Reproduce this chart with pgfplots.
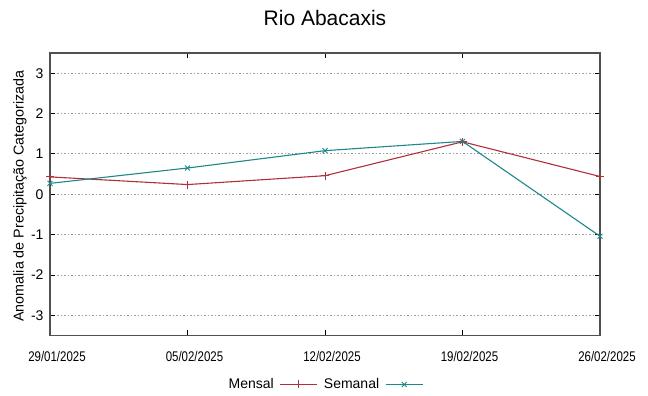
\documentclass[border=0pt]{standalone}
\usepackage{fontspec}
\setmainfont{Liberation Sans}
\newfontfamily\narrowfont[FakeStretch=0.82]{Liberation Sans}
\usepackage{pgfplots}
\pgfplotsset{compat=1.18}
\definecolor{mensal}{RGB}{176,48,58}
\definecolor{semanal}{RGB}{30,135,135}
\definecolor{axgray}{RGB}{80,80,80}
\definecolor{gridgray}{RGB}{160,160,160}
\begin{document}
\begin{tikzpicture}
\useasboundingbox (0,0) rectangle (648bp,396bp);
\begin{axis}[
  at={(50bp,60.5bp)}, anchor=south west,
  scale only axis, width=550bp, height=282.5bp,
  xmin=0, xmax=4, ymin=-3.5, ymax=3.5,
  xtick={0,1,2,3,4},
  xticklabels={29/01/2025,05/02/2025,12/02/2025,19/02/2025,26/02/2025},
  ytick={-3,-2,-1,0,1,2,3},
  yticklabels={-3,-2,-1,0,1,2,3},
  x tick label style={font=\narrowfont\fontsize{14bp}{16bp}\selectfont, yshift=-12bp, xshift=7bp},
  y tick label style={font=\fontsize{14bp}{16bp}\selectfont, xshift=-3bp},
  tick align=inside,
  major tick length=5bp,
  tick style={black, line width=0.9bp},
  axis line style={axgray, line width=1.3bp},
  ymajorgrids,
  grid style={gridgray, line width=0.8bp, dash pattern=on 1.5bp off 2bp},
  clip=false,
  legend columns=2,
  legend style={at={(0.5,-0.145)}, anchor=north, draw=none, fill=none,
    font=\fontsize{14bp}{16bp}\selectfont, legend plot pos=right,
    /tikz/every even column/.append style={column sep=4bp},
    /tikz/every odd column/.append style={column sep=4bp},
    inner sep=0pt, row sep=0pt},
  legend image code/.code={\draw[#1, mark repeat=2, mark phase=2] plot coordinates {(0bp,0bp) (18.5bp,0bp) (37bp,0bp)};},
]
\addplot[mensal, line width=1.1bp, mark=+, mark size=4bp, mark options={line width=0.9bp}]
  coordinates {(0,0.43) (1,0.24) (2,0.46) (3,1.30) (4,0.44)};
\addlegendentry{Mensal}
\addplot[semanal, line width=1.1bp, mark=x, mark size=3.5bp, mark options={line width=0.9bp}]
  coordinates {(0,0.27) (1,0.65) (2,1.08) (3,1.31) (4,-1.04)};
\addlegendentry{Semanal}
\end{axis}
\node at (325bp,378bp) {\fontsize{21bp}{24bp}\selectfont Rio Abacaxis};
\node[rotate=90] at (20bp,200bp) {\fontsize{14.3bp}{16bp}\selectfont Anomalia de Precipitação Categorizada};
\end{tikzpicture}
\end{document}
